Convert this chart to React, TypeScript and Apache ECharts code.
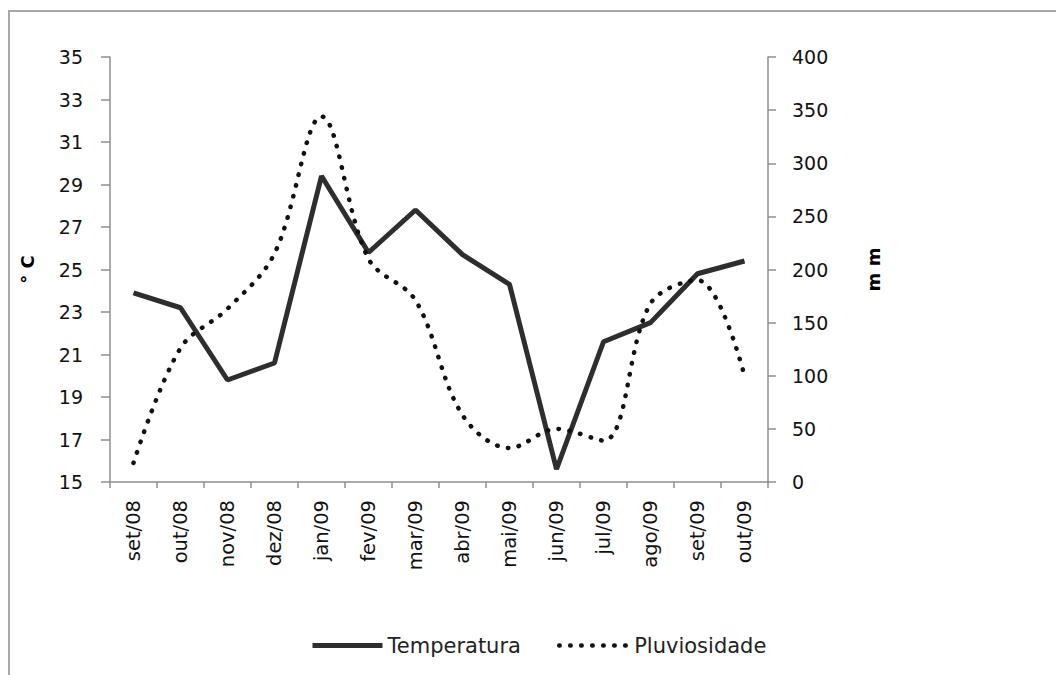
import React, { useEffect, useRef } from "react";
import * as echarts from "echarts";

const categories = ["set/08", "out/08", "nov/08", "dez/08", "jan/09", "fev/09", "mar/09", "abr/09", "mai/09", "jun/09", "jul/09", "ago/09", "set/09", "out/09"];
const temperatura = [23.9, 23.2, 19.8, 20.6, 29.4, 25.8, 27.8, 25.7, 24.3, 15.6, 21.6, 22.5, 24.8, 25.4];
const pluviosidade = [18, 126, 163, 215, 344, 210, 171, 63, 32, 50, 39, 168, 190, 100];
const leftTicks = { min: 15, max: 35, interval: 2 };
const rightTicks = { min: 0, max: 400, interval: 50 };

const FONT = "DejaVu Sans";
const SOLID = { color: "#2e2e2e", width: 5 };
const DOTTED = { color: "#111", width: 4.5, type: [0.5, 10.5], cap: "round" };

export default function App() {
  const ref = useRef<HTMLDivElement>(null);
  useEffect(() => {
    document.body.style.margin = "0";
    const chart = echarts.init(ref.current!, null, { renderer: "svg" });
    const axisLine = { show: true, lineStyle: { color: "#8f8f8f", width: 1.5 } };
    chart.setOption({
      animation: false,
      backgroundColor: "#ffffff",
      textStyle: { fontFamily: FONT },
      graphic: [
        {
          type: "rect",
          shape: { x: 9, y: 11, width: 1100, height: 700 },
          style: { fill: "none", stroke: "#a8a8a8", lineWidth: 2 },
          silent: true,
        },
      ],
      grid: { left: 110, right: 288, top: 57, bottom: 193, containLabel: false },
      legend: {
        left: 305,
        top: 630,
        itemWidth: 70,
        itemHeight: 14,
        itemGap: 36,
        itemStyle: { opacity: 0 },
        textStyle: { fontFamily: FONT, fontSize: 21, color: "#222" },
        data: [
          { name: "Temperatura", lineStyle: { ...SOLID, opacity: 1 }, itemStyle: { opacity: 0 } },
          { name: "Pluviosidade", lineStyle: { ...DOTTED, opacity: 1 }, itemStyle: { opacity: 0 } },
        ],
      },
      xAxis: {
        type: "category",
        data: categories,
        boundaryGap: true,
        axisLine,
        axisTick: { show: true, length: 6, lineStyle: { color: "#8f8f8f", width: 1.5 } },
        axisLabel: { rotate: 90, margin: 18, fontSize: 19.5, color: "#111", fontFamily: FONT, interval: 0 },
        splitLine: { show: false },
      },
      yAxis: [
        {
          type: "value",
          position: "left",
          min: leftTicks.min,
          max: leftTicks.max,
          interval: leftTicks.interval,
          name: "° C",
          nameLocation: "middle",
          nameRotate: 90,
          nameGap: 74,
          nameTextStyle: { fontFamily: FONT, fontSize: 18, fontWeight: "bold", color: "#000" },
          axisLine,
          axisTick: { show: true, length: 9, lineStyle: { color: "#8f8f8f", width: 1.5 } },
          axisLabel: { margin: 27, fontSize: 19, color: "#111", fontFamily: FONT },
          splitLine: { show: false },
        },
        {
          type: "value",
          position: "right",
          min: rightTicks.min,
          max: rightTicks.max,
          interval: rightTicks.interval,
          name: "m m",
          nameLocation: "middle",
          nameRotate: 90,
          nameGap: 96,
          nameTextStyle: { fontFamily: FONT, fontSize: 18, fontWeight: "bold", color: "#000" },
          axisLine,
          axisTick: { show: true, length: 8, lineStyle: { color: "#8f8f8f", width: 1.5 } },
          axisLabel: { margin: 24, fontSize: 19, color: "#111", fontFamily: FONT },
          splitLine: { show: false },
        },
      ],
      series: [
        {
          name: "Temperatura",
          type: "line",
          yAxisIndex: 0,
          data: temperatura,
          symbol: "none",
          lineStyle: SOLID,
          itemStyle: { color: "#2e2e2e" },
        },
        {
          name: "Pluviosidade",
          type: "line",
          yAxisIndex: 1,
          data: pluviosidade,
          symbol: "none",
          smooth: 0.35,
          lineStyle: DOTTED,
          itemStyle: { color: "#111" },
        },
      ],
    });
    return () => chart.dispose();
  }, []);
  return <div ref={ref} style={{ width: 1056, height: 675 }} />;
}
